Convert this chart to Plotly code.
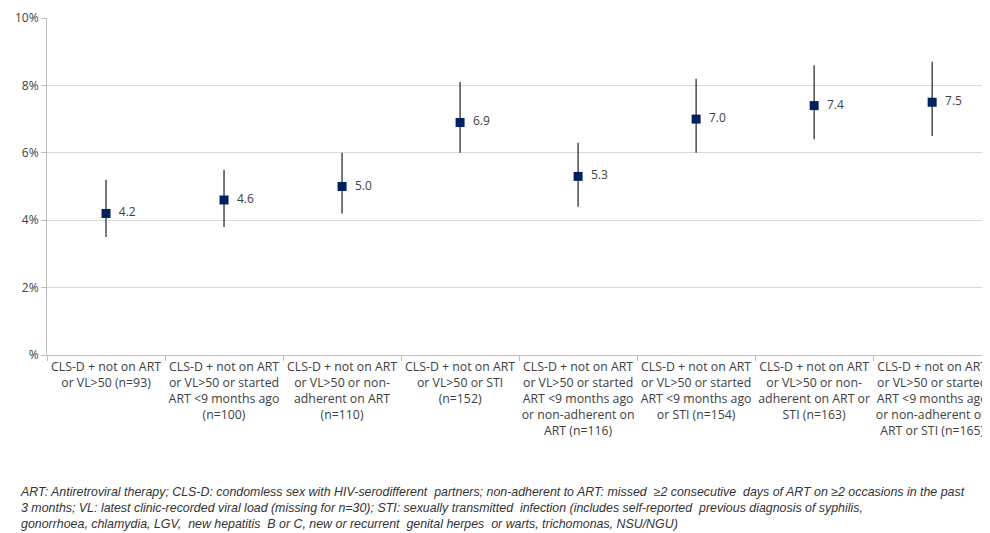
import plotly.graph_objects as go

categories = [
    "CLS-D + not on ART<br>or VL>50 (n=93)",
    "CLS-D + not on ART<br>or VL>50 or started<br>ART <9 months ago<br>(n=100)",
    "CLS-D + not on ART<br>or VL>50 or non-<br>adherent on ART<br>(n=110)",
    "CLS-D + not on ART<br>or VL>50 or STI<br>(n=152)",
    "CLS-D + not on ART<br>or VL>50 or started<br>ART <9 months ago<br>or non-adherent on<br>ART (n=116)",
    "CLS-D + not on ART<br>or VL>50 or started<br>ART <9 months ago<br>or STI (n=154)",
    "CLS-D + not on ART<br>or VL>50 or non-<br>adherent on ART or<br>STI (n=163)",
    "CLS-D + not on ART<br>or VL>50 or started<br>ART <9 months ago<br>or non-adherent on<br>ART or STI (n=165)",
]
estimates = [4.2, 4.6, 5.0, 6.9, 5.3, 7.0, 7.4, 7.5]
lower = [3.5, 3.8, 4.2, 6.0, 4.4, 6.0, 6.4, 6.5]
upper = [5.2, 5.5, 6.0, 8.1, 6.3, 8.2, 8.6, 8.7]
y_tickvals = [0, 2, 4, 6, 8, 10]
y_ticktext = ["%", "2%", "4%", "6%", "8%", "10%"]

footnote = ("ART: Antiretroviral therapy; CLS-D: condomless sex with HIV-serodifferent  partners; "
            "non-adherent to ART: missed  \u22652 consecutive  days of ART on \u22652 occasions in the past<br>"
            "3 months; VL: latest clinic-recorded viral load (missing for n=30); STI: sexually transmitted  infection "
            "(includes self-reported  previous diagnosis of syphilis,<br>"
            "gonorrhoea, chlamydia, LGV,  new hepatitis  B or C, new or recurrent  genital herpes  or warts, "
            "trichomonas, NSU/NGU)")

# the page body adds an 8px offset; compensate so the plot lands where the reference has it
OFF = 8
W, H = 990 - OFF, 533 - OFF
L, R, T, B = 47 - OFF, 0, 18 - OFF, 178
plot_w = W - L - R
plot_h = H - T - B

fig = go.Figure()
fig.add_trace(go.Scatter(
    x=categories,
    y=estimates,
    mode="markers+text",
    text=[f"  {v:.1f}" for v in estimates],
    textposition="middle right",
    textfont=dict(family="Open Sans", size=12, color="#404040"),
    marker=dict(symbol="square", size=9, color="#002060"),
    error_y=dict(
        type="data",
        symmetric=False,
        array=[u - e for u, e in zip(upper, estimates)],
        arrayminus=[e - l for e, l in zip(estimates, lower)],
        color="#303030",
        thickness=1.3,
        width=0,
    ),
    cliponaxis=False,
    showlegend=False,
))

fig.update_layout(
    width=W,
    height=H,
    margin=dict(l=L, r=R, t=T, b=B),
    paper_bgcolor="white",
    plot_bgcolor="white",
    font=dict(family="Open Sans", size=12, color="#404040"),
    xaxis=dict(
        type="category",
        range=[-0.5, 7.49],
        automargin=False,
        showgrid=False,
        showline=True,
        linecolor="#bfbfbf",
        linewidth=1,
        ticks="outside",
        tickson="boundaries",
        ticklen=5,
        tickcolor="#bfbfbf",
        tickfont=dict(family="Open Sans", size=12.3, color="#404040"),
        tickangle=0,
    ),
    yaxis=dict(
        range=[0, 10],
        automargin=False,
        tickvals=y_tickvals,
        ticktext=y_ticktext,
        showgrid=True,
        gridcolor="#d9d9d9",
        gridwidth=1,
        showline=True,
        linecolor="#bfbfbf",
        ticks="outside",
        ticklen=5,
        tickcolor="#bfbfbf",
        zeroline=False,
        tickfont=dict(family="Open Sans", size=12, color="#404040"),
    ),
    annotations=[dict(
        xref="paper", yref="paper",
        x=(18 - 47) / plot_w, y=-(483 - 355) / plot_h,
        xanchor="left", yanchor="top",
        text="<i>" + footnote + "</i>",
        showarrow=False, align="left",
        font=dict(family="Liberation Sans", size=12.4, color="#333333"),
    )],
)

fig.write_html("out.html")
